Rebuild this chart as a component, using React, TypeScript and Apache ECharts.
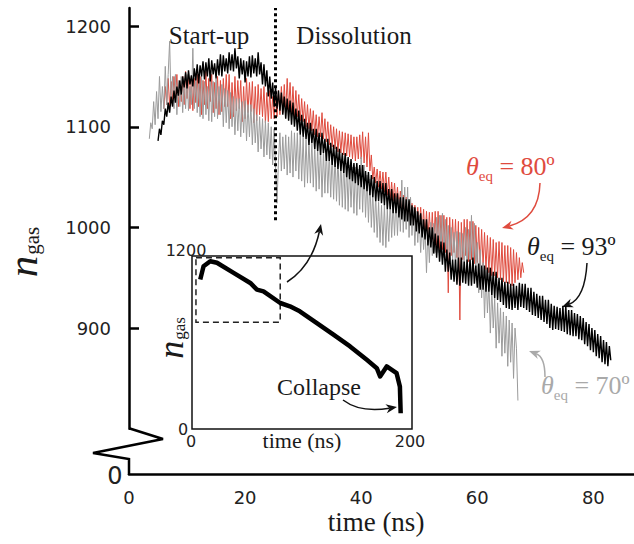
import { useEffect, useRef } from 'react';
import * as echarts from 'echarts';

// ---------- data ----------
const STEP = 0.25; // ns between samples
const BLACK_T0 = 5.0;
const black93 = [
  1086, 1098, 1092, 1106, 1102, 1118, 1110, 1124, 1114, 1130, 1120, 1136, 1124, 1140, 1131, 1146,
  1132, 1150, 1139, 1154, 1138, 1156, 1142, 1151, 1140, 1158, 1146, 1162, 1143, 1161, 1150, 1165,
  1147, 1164, 1150, 1168, 1145, 1166, 1152, 1163, 1148, 1167, 1151, 1172, 1150, 1171, 1155, 1168,
  1153, 1174, 1156, 1172, 1155, 1178, 1158, 1170, 1148, 1168, 1152, 1166, 1144, 1165, 1150, 1170,
  1149, 1171, 1153, 1168, 1150, 1174, 1152, 1164, 1142, 1162, 1140, 1156, 1130, 1150, 1128, 1144,
  1120, 1140, 1118, 1136, 1116, 1134, 1112, 1130, 1108, 1128, 1106, 1126, 1102, 1124, 1100, 1118,
  1096, 1116, 1092, 1112, 1090, 1108, 1088, 1104, 1082, 1104, 1084, 1098, 1078, 1098, 1076, 1094,
  1072, 1094, 1074, 1088, 1066, 1088, 1066, 1084, 1062, 1082, 1060, 1080, 1058, 1078, 1056, 1074,
  1054, 1074, 1050, 1070, 1048, 1068, 1046, 1064, 1044, 1064, 1042, 1062, 1040, 1062, 1038, 1056,
  1036, 1055, 1032, 1052, 1030, 1050, 1026, 1046, 1026, 1046, 1024, 1044, 1022, 1044, 1018, 1038,
  1018, 1038, 1014, 1034, 1014, 1034, 1010, 1030, 1008, 1030, 1006, 1028, 1006, 1028, 1002, 1022,
  1002, 1020, 996, 1016, 994, 1014, 990, 1008, 988, 1008, 982, 1000, 980, 1000, 974, 994,
  970, 992, 966, 986, 963, 985, 956, 978, 956, 975, 948, 968, 946, 968, 943, 970,
  942, 970, 945, 966, 944, 968, 942, 968, 942, 970, 944, 962, 940, 964, 938, 962,
  938, 962, 936, 960, 936, 960, 933, 956, 930, 956, 928, 950, 926, 950, 923, 946,
  920, 946, 919, 944, 918, 944, 920, 942, 918, 945, 921, 944, 920, 944, 918, 940,
  916, 940, 913, 936, 912, 934, 910, 932, 908, 932, 906, 928, 904, 928, 900, 924,
  898, 922, 899, 921, 898, 920, 897, 922, 896, 922, 894, 918, 893, 918, 892, 915,
  892, 914, 889, 912, 888, 910, 884, 906, 882, 904, 878, 900, 876, 898, 872, 894,
  870, 892, 866, 888, 864, 886, 862, 882, 868,
];
const GRAY_T0 = 3.5;
const gray70 = [
  1088, 1104,
  1098, 1125, 1102, 1135, 1108, 1150, 1115, 1140, 1118, 1160, 1122, 1152, 1185, 1125, 1150, 1118,
  1152, 1112, 1146, 1120, 1150, 1114, 1148, 1118, 1152, 1116, 1140, 1122, 1178, 1118, 1150, 1114,
  1148, 1110, 1152, 1108, 1145, 1112, 1140, 1106, 1150, 1105, 1145, 1110, 1148, 1108, 1140, 1112,
  1142, 1100, 1138, 1104, 1136, 1098, 1134, 1100, 1130, 1092, 1128, 1096, 1128, 1090, 1125, 1094,
  1126, 1086, 1122, 1090, 1122, 1082, 1118, 1084, 1112, 1075, 1110, 1078, 1108, 1070, 1106, 1072,
  1104, 1068, 1100, 1062, 1098, 1060, 1024, 1066, 1094, 1056, 1090, 1058, 1092, 1052, 1090, 1054,
  1096, 1050, 1094, 1056, 1094, 1048, 1092, 1046, 1090, 1040, 1088, 1044, 1088, 1044, 1086, 1040,
  1082, 1036, 1080, 1038, 1080, 1030, 1076, 1034, 1078, 1034, 1075, 1030, 1074, 1028, 1072, 1026,
  1070, 1022, 1068, 1020, 1066, 1018, 1064, 1016, 1062, 1020, 1060, 1014, 1060, 1012, 1058, 1018,
  1070, 1015, 1062, 1010, 1052, 1005, 1048, 1000, 1035, 995, 1032, 990, 1025, 985, 1022, 982,
  1022, 980, 1018, 986, 1026, 990, 1024, 992, 1030, 992, 1028, 996, 1047, 995, 1040, 998,
  1040, 990, 1030, 992, 1020, 982, 1016, 985, 1012, 975, 1008, 978, 1000, 955, 998, 965,
  1005, 972, 1004, 975, 1010, 975, 1012, 978, 1014, 970, 1008, 972, 1002, 965, 1000, 968,
  995, 960, 996, 962, 995, 955, 994, 958, 1000, 958, 998, 962, 1012, 955, 1004, 960,
  985, 935, 978, 930, 965, 910, 958, 915, 945, 895, 940, 900, 930, 880, 925, 885,
  920, 872, 916, 875, 912, 862, 908, 866, 905, 850, 900, 880, 828,
];
const RED_T0 = 6.0;
const red80 = [
  1118, 1140, 1122, 1148, 1120, 1145, 1126, 1150, 1128, 1152, 1120, 1146, 1125, 1150, 1122, 1155,
  1128, 1152, 1118, 1150, 1116, 1148, 1124, 1152, 1120, 1150, 1112, 1146, 1122, 1155, 1118, 1148,
  1125, 1152, 1114, 1144, 1118, 1150, 1112, 1146, 1115, 1148, 1120, 1152, 1120, 1152, 1108, 1144,
  1110, 1150, 1116, 1146, 1118, 1146, 1105, 1140, 1108, 1148, 1114, 1144, 1115, 1145, 1104, 1140,
  1106, 1142, 1112, 1138, 1110, 1140, 1104, 1134, 1105, 1136, 1108, 1130, 1108, 1132, 1110, 1136,
  1112, 1140, 1114, 1142, 1115, 1148, 1116, 1144, 1112, 1140, 1110, 1136, 1110, 1132, 1106, 1128,
  1105, 1125, 1100, 1122, 1098, 1118, 1096, 1116, 1092, 1112, 1090, 1110, 1090, 1114, 1088, 1108,
  1085, 1105, 1082, 1102, 1080, 1100, 1078, 1098, 1075, 1096, 1074, 1095, 1072, 1094, 1071, 1093,
  1070, 1092, 1068, 1090, 1066, 1090, 1068, 1092, 1068, 1095, 1064, 1090, 1060, 1094, 1056, 1072,
  1048, 1060, 1044, 1058, 1040, 1056, 1038, 1055, 1035, 1055, 1032, 1050, 1028, 1045, 1026, 1044,
  1022, 1040, 1020, 1036, 1018, 1032, 1014, 1030, 1010, 1026, 1008, 1024, 1004, 1022, 1002, 1020,
  998, 1020, 994, 1018, 990, 1016, 988, 1015, 985, 1015, 982, 1016, 980, 1016, 978, 1012,
  978, 1012, 975, 1010, 935, 1010, 972, 1008, 975, 1008, 970, 1006, 908, 1005, 968, 1008,
  972, 1008, 966, 1006, 968, 1006, 964, 1002, 965, 1000, 962, 998, 962, 995, 958, 992,
  955, 990, 952, 988, 952, 985, 950, 986, 948, 985, 946, 982, 945, 982, 944, 980,
  942, 978, 945, 975, 948, 970, 950, 965, 955,
];
const insetTime = [7.5, 10.5, 16.6, 22.7, 37.8, 53, 59, 65, 80.2, 89, 98, 113.5, 128.6, 143.7, 158.9, 168, 171, 177, 186, 189, 189.7];
const insetN = [1037, 1129, 1164, 1153, 1083, 1013, 967, 955, 874, 851, 816, 735, 654, 573, 480, 422, 364, 434, 387, 294, 109];
const zoomBox = { t0: 3.6, t1: 80.2, n0: 740, n1: 1187 };
const phaseBoundary = { t: 25.2, nLow: 1007 };
const xTickValues = [0, 20, 40, 60, 80];
const yTickValues = [900, 1000, 1100, 1200];

const SANS = 'DejaVu Sans';
const SERIF = 'Liberation Serif';
const RED = '#df4b3e';
const GRAY = '#9b9b9b';
const GRAY_TXT = '#a9a9a9';

function series(t0: number, vals: number[]) {
  return vals.map((v, i) => [t0 + i * STEP, v]);
}

function curvedArrow(sx: number, sy: number, cx: number, cy: number, tx: number, ty: number, color: string) {
  const dx = tx - cx, dy = ty - cy;
  const l = Math.hypot(dx, dy);
  const ux = dx / l, uy = dy / l;
  const px = -uy, py = ux;
  const len = 11, half = 4.5;
  const bx = tx - ux * len, by = ty - uy * len;
  const nx = tx - ux * len * 0.7, ny = ty - uy * len * 0.7;
  return [
    {
      type: 'bezierCurve',
      shape: { x1: sx, y1: sy, cpx1: cx, cpy1: cy, x2: nx, y2: ny },
      style: { stroke: color, lineWidth: 1.5, fill: null },
      silent: true,
    },
    {
      type: 'polygon',
      shape: { points: [[tx, ty], [bx + px * half, by + py * half], [nx, ny], [bx - px * half, by - py * half]] },
      style: { fill: color },
      silent: true,
    },
  ];
}

function txt(x: number, y: number, text: string, font: string, fill = '#1a1a1a', extra: any = {}) {
  return {
    type: 'text',
    x,
    y,
    silent: true,
    style: {
      text,
      font,
      fill,
      align: 'center',
      verticalAlign: 'middle',
      textAlign: 'center',
      textVerticalAlign: 'middle',
      ...extra,
    },
  };
}

function thetaLabel(x: number, y: number, value: string, color: string) {
  return {
    type: 'text',
    x,
    y,
    silent: true,
    style: {
      text: `{t|θ}{s|eq}{m| = ${value}º}`,
      fill: color,
      align: 'left',
      verticalAlign: 'middle',
      textAlign: 'left',
      textVerticalAlign: 'middle',
      rich: {
        t: { fontFamily: SERIF, fontStyle: 'italic', fontSize: 26, fill: color, lineHeight: 28 },
        s: { fontFamily: SERIF, fontSize: 15, fill: color, padding: [20, 0, 0, 0] },
        m: { fontFamily: SERIF, fontSize: 26, fill: color, lineHeight: 28 },
      },
    },
  };
}

function ngasLabel(x: number, y: number, nSize: number, sSize: number, pad: number, lh: number) {
  return {
    type: 'text',
    x,
    y,
    rotation: Math.PI / 2,
    silent: true,
    style: {
      text: '{n|n}{s|gas}',
      fill: '#1a1a1a',
      align: 'center',
      verticalAlign: 'middle',
      textAlign: 'center',
      textVerticalAlign: 'middle',
      rich: {
        n: { fontFamily: SERIF, fontStyle: 'italic', fontSize: nSize, fill: '#1a1a1a', lineHeight: lh },
        s: { fontFamily: SERIF, fontSize: sSize, fill: '#1a1a1a', padding: [pad, 0, 0, 1] },
      },
    },
  };
}

export default function App() {
  const ref = useRef<HTMLDivElement>(null);
  useEffect(() => {
    if (!ref.current) return;
    const chart = echarts.init(ref.current, null, { renderer: 'svg' });
    const AX_X = 129;
    const GRID_BOTTOM_Y = 428.7;
    const X_AXIS_Y = 474;

    const option: any = {
      animation: false,
      backgroundColor: '#fff',
      grid: [
        { left: AX_X, right: 0, top: 8, bottom: 544 - GRID_BOTTOM_Y, outerBoundsMode: 'none', containLabel: false },
        {
          left: 192, top: 256, width: 220, height: 173, show: true, borderColor: '#111', borderWidth: 1.5,
          backgroundColor: '#fff', outerBoundsMode: 'none', containLabel: false,
        },
      ],
      xAxis: [
        {
          type: 'value', gridIndex: 0, min: 0, max: 87, interval: 20, offset: X_AXIS_Y - GRID_BOTTOM_Y,
          axisLine: { show: true, onZero: false, lineStyle: { color: '#000', width: 2.5 } },
          axisTick: { show: false },
          splitLine: { show: false },
          axisLabel: {
            customValues: xTickValues, margin: 14, fontFamily: SANS, fontSize: 18, color: '#222',
            formatter: (v: number) => (xTickValues.includes(v) ? String(v) : ''),
          },
        },
        {
          type: 'value', gridIndex: 1, min: 0, max: 200,
          axisLine: { show: false }, axisTick: { show: false }, axisLabel: { show: false }, splitLine: { show: false },
        },
      ],
      yAxis: [
        {
          type: 'value', gridIndex: 0, min: 800, max: 1218, interval: 100,
          axisLine: { show: true, onZero: false, lineStyle: { color: '#000', width: 2.5 } },
          axisTick: { show: true, inside: true, length: 10, customValues: yTickValues, lineStyle: { color: '#000', width: 2.5 } },
          splitLine: { show: false },
          axisLabel: {
            customValues: yTickValues, margin: 18, fontFamily: SANS, fontSize: 18, color: '#222',
            formatter: (v: number) => (yTickValues.includes(v) ? String(v) : ''),
          },
        },
        {
          type: 'value', gridIndex: 1, min: 0, max: 1200,
          axisLine: { show: false }, axisTick: { show: false }, axisLabel: { show: false }, splitLine: { show: false },
        },
      ],
      series: [
        {
          type: 'line', name: '80', xAxisIndex: 0, yAxisIndex: 0, data: series(RED_T0, red80),
          showSymbol: false, symbol: 'none', lineStyle: { color: RED, width: 1 }, z: 2,
        },
        {
          type: 'line', name: '70', xAxisIndex: 0, yAxisIndex: 0, data: series(GRAY_T0, gray70),
          showSymbol: false, symbol: 'none', lineStyle: { color: GRAY, width: 1 }, z: 3,
        },
        {
          type: 'line', name: '93', xAxisIndex: 0, yAxisIndex: 0, data: series(BLACK_T0, black93),
          showSymbol: false, symbol: 'none', lineStyle: { color: '#000', width: 1.4 }, z: 4,
          markLine: {
            silent: true, symbol: 'none', label: { show: false },
            lineStyle: { color: '#000', width: 3, type: [3, 3] },
            data: [[{ coord: [phaseBoundary.t, phaseBoundary.nLow] }, { coord: [phaseBoundary.t, 1218] }]],
          },
        },
        {
          type: 'line', name: 'inset', xAxisIndex: 1, yAxisIndex: 1,
          data: insetTime.map((t, i) => [t, insetN[i]]),
          showSymbol: false, symbol: 'none', lineStyle: { color: '#000', width: 4.5, join: 'round' }, z: 5,
          markArea: {
            silent: true,
            itemStyle: { color: 'rgba(0,0,0,0)', borderColor: '#222', borderWidth: 1.5, borderType: [6, 4] },
            data: [[{ coord: [zoomBox.t0, zoomBox.n1] }, { coord: [zoomBox.t1, zoomBox.n0] }]],
          },
        },
      ],
      graphic: [
        {
          type: 'polyline', silent: true,
          shape: { points: [[AX_X, GRID_BOTTOM_Y - 0.5], [163, 439], [93, 453], [AX_X, 459], [AX_X, X_AXIS_Y + 1]] },
          style: { stroke: '#000', lineWidth: 2.5, fill: null, lineJoin: 'miter' },
        },
        txt(115, 476, '0', `24px "${SANS}"`, '#222'),
        txt(209, 35, 'Start-up', `25px "${SERIF}"`),
        txt(354, 35, 'Dissolution', `25px "${SERIF}"`),
        txt(376, 522, 'time (ns)', `27px "${SERIF}"`),
        ngasLabel(22, 252, 43, 21, 20, 34),
        // inset texts
        txt(186, 250, '1200', `16px "${SANS}"`, '#222'),
        txt(183, 429, '0', `16px "${SANS}"`, '#222'),
        txt(191, 441, '0', `16px "${SANS}"`, '#222'),
        txt(410, 441, '200', `16px "${SANS}"`, '#222'),
        txt(302, 440, 'time (ns)', `22px "${SERIF}"`),
        ngasLabel(171, 338, 36, 17, 16, 30),
        txt(319, 387, 'Collapse', `24px "${SERIF}"`),
        ...curvedArrow(287, 282, 312, 266, 321, 224, '#111'),
        ...curvedArrow(343, 400, 360, 413, 397, 407, '#111'),
        // theta labels
        thetaLabel(466, 166, '80', RED),
        ...curvedArrow(540, 183, 539, 218, 502, 228, RED),
        thetaLabel(527, 246, '93', '#1a1a1a'),
        ...curvedArrow(587, 263, 585, 298, 562, 307, '#111'),
        thetaLabel(541, 385, '70', GRAY_TXT),
        ...curvedArrow(545, 377, 545, 357, 529, 351, GRAY_TXT),
      ],
    };
    chart.setOption(option);
    return () => chart.dispose();
  }, []);
  return <div ref={ref} style={{ position: 'fixed', left: 0, top: 0, width: 634, height: 544 }} />;
}
